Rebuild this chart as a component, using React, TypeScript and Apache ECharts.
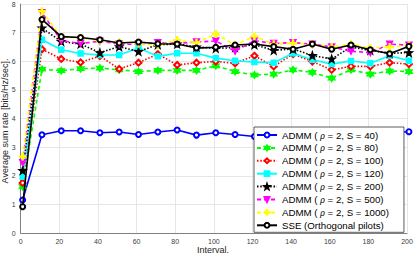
import React, { useEffect, useRef } from "react";
import * as echarts from "echarts";

const xValues = [1, 11, 21, 31, 41, 51, 61, 71, 81, 91, 101, 111, 121, 131, 141, 151, 161, 171, 181, 191, 201];
const s40 = [1.15, 3.43, 3.57, 3.57, 3.5, 3.53, 3.44, 3.53, 3.6, 3.42, 3.5, 3.44, 3.37, 3.45, 3.5, 3.42, 3.48, 3.4, 3.46, 3.5, 3.54];
const s80 = [1.62, 5.72, 5.67, 5.74, 5.76, 5.7, 5.64, 5.68, 5.68, 5.68, 5.84, 5.64, 5.52, 5.55, 5.7, 5.61, 5.41, 5.7, 5.55, 5.66, 5.64];
const s100 = [1.75, 6.42, 6.08, 5.96, 6.18, 5.73, 5.95, 6.25, 5.87, 5.95, 5.99, 5.93, 6.19, 5.82, 6.25, 5.99, 5.7, 5.82, 5.82, 5.95, 5.9];
const s120 = [1.96, 6.75, 6.4, 6.27, 6.22, 6.22, 6.46, 6.17, 6.28, 6.28, 6.11, 6.02, 5.97, 5.95, 6.28, 6.05, 5.9, 6.01, 5.93, 6.19, 6.02];
const s200 = [2.18, 7.16, 6.69, 6.6, 6.3, 6.51, 6.34, 6.58, 6.6, 6.5, 6.45, 6.48, 6.58, 6.38, 6.43, 6.2, 6.08, 6.5, 6.38, 6.28, 6.3];
const s500 = [2.46, 7.7, 6.72, 6.62, 6.7, 6.6, 6.6, 6.65, 6.63, 6.67, 6.71, 6.35, 6.72, 6.62, 6.65, 6.6, 6.5, 6.35, 6.3, 6.6, 6.56];
const s1000 = [2.67, 7.75, 6.85, 6.82, 6.72, 6.66, 6.62, 6.57, 6.74, 6.65, 6.95, 6.57, 6.87, 6.6, 6.63, 6.6, 6.5, 6.6, 6.46, 6.5, 6.55];
const sse = [0.92, 7.46, 6.86, 6.83, 6.75, 6.64, 6.67, 6.61, 6.6, 6.46, 6.49, 6.57, 6.6, 6.51, 6.42, 6.6, 6.42, 6.57, 6.4, 6.26, 6.52];

const seriesNames = [
  "ADMM ( ρ = 2, S = 40)",
  "ADMM ( ρ = 2, S = 80)",
  "ADMM ( ρ = 2, S = 100)",
  "ADMM ( ρ = 2, S = 120)",
  "ADMM ( ρ = 2, S = 200)",
  "ADMM ( ρ = 2, S = 500)",
  "ADMM ( ρ = 2, S = 1000)",
  "SSE (Orthogonal pilots)",
];
const xTitle = "Interval.";
const yTitle = "Average sum rate [bits/Hz/sec].";

const FONT = "'Liberation Sans', Arial, sans-serif";

const PENTAGRAM = "path://M0,-10L2.35,-3.24L9.51,-3.09L3.8,1.24L5.88,8.09L0,4L-5.88,8.09L-3.8,1.24L-9.51,-3.09L-2.35,-3.24Z";
const HEXAGRAM = "path://M0,-10L2.9,-5L8.66,-5L5.8,0L8.66,5L2.9,5L0,10L-2.9,5L-8.66,5L-5.8,0L-8.66,-5L-2.9,-5Z";
const PLUS = "path://M-1.5,-10h3v8.5h8.5v3h-8.5v8.5h-3v-8.5h-8.5v-3h8.5z";
const TRI_DOWN = "path://M-10,-7L10,-7L0,10Z";

export default function App() {
  const ref = useRef<HTMLDivElement>(null);
  useEffect(() => {
    if (!ref.current) return;
    const chart = echarts.init(ref.current, null, { renderer: "svg" });
    const mk = (data: number[]) => xValues.map((x, i) => [x, data[i]]);
    const styles = [
      { data: s40, color: "#0000ff", symbol: "emptyCircle", size: 5, type: "solid" },
      { data: s80, color: "#00ff00", symbol: HEXAGRAM, size: 6.5, type: [4, 3] },
      { data: s100, color: "#ff0000", symbol: "emptyDiamond", size: 6, type: [1.5, 1.8] },
      { data: s120, color: "#00ffff", symbol: "rect", size: 5, type: "solid" },
      { data: s200, color: "#000000", symbol: PENTAGRAM, size: 7, type: [1.5, 1.8] },
      { data: s500, color: "#ff00ff", symbol: TRI_DOWN, size: 6, type: [4, 3] },
      { data: s1000, color: "#ffff00", symbol: PLUS, size: 6.5, type: [4, 3] },
      { data: sse, color: "#000000", symbol: "emptyCircle", size: 5, type: "solid" },
    ];
    const series = styles.map((s, i) => ({
      name: seriesNames[i],
      type: "line",
      data: mk(s.data),
      clip: false,
      symbol: s.symbol,
      symbolSize: s.size,
      showAllSymbol: true,
      lineStyle: { color: s.color, width: 1.6, type: s.type },
      itemStyle: { color: s.color, borderColor: s.color, borderWidth: 1.4 },
      emphasis: { disabled: true },
      z: 2 + i,
    }));
    chart.setOption({
      animation: false,
      grid: { left: 20.7, right: 8, top: 4, bottom: 24, containLabel: false, outerBoundsMode: "none" },
      xAxis: {
        type: "value",
        min: 0,
        max: 200,
        interval: 20,
        axisLine: { show: true, lineStyle: { color: "#808080", width: 1 } },
        axisTick: { show: false },
        axisLabel: { fontFamily: FONT, fontSize: 7, color: "#404040", margin: 5 },
        splitLine: { show: true, lineStyle: { color: "#e6e6e6", width: 1 } },
      },
      yAxis: {
        type: "value",
        min: 0,
        max: 8,
        interval: 1,
        axisLine: { show: true, lineStyle: { color: "#808080", width: 1 } },
        axisTick: { show: false },
        axisLabel: { fontFamily: FONT, fontSize: 7, color: "#404040", margin: 5 },
        splitLine: { show: true, lineStyle: { color: "#e6e6e6", width: 1 } },
      },
      graphic: [
        {
          type: "text",
          x: 213,
          y: 250,
          style: { text: xTitle, fontFamily: FONT, fontSize: 9, fill: "#262626", align: "center", verticalAlign: "middle" },
        },
        {
          type: "text",
          x: 4.5,
          y: 121,
          rotation: Math.PI / 2,
          style: { text: yTitle, fontFamily: FONT, fontSize: 9, fill: "#262626", align: "center", verticalAlign: "middle" },
        },
      ],
      legend: {
        orient: "vertical",
        left: 254,
        top: 127,
        padding: [3, 15, 2, 2],
        itemWidth: 20,
        itemHeight: 6,
        itemGap: 2.9,
        backgroundColor: "#ffffff",
        borderColor: "#333333",
        borderWidth: 0.8,
        borderRadius: 0,
        data: seriesNames,
        formatter: (name: string) => {
          const parts = name.split("ρ");
          if (parts.length === 2) {
            return `{t|${parts[0]}}{i|ρ}{t|${parts[1]}}`;
          }
          return `{t|${name}}`;
        },
        textStyle: {
          fontFamily: FONT,
          fontSize: 9.7,
          color: "#000",
          rich: {
            t: { fontFamily: FONT, fontSize: 9.7, color: "#000", lineHeight: 9 },
            i: { fontFamily: "'Liberation Serif', serif", fontStyle: "italic", fontSize: 9.7, color: "#000", lineHeight: 9 },
          },
        },
      },
      series,
    });
    return () => chart.dispose();
  }, []);
  return <div ref={ref} style={{ width: 415, height: 257, position: "absolute", left: 0, top: 0 }} />;
}
